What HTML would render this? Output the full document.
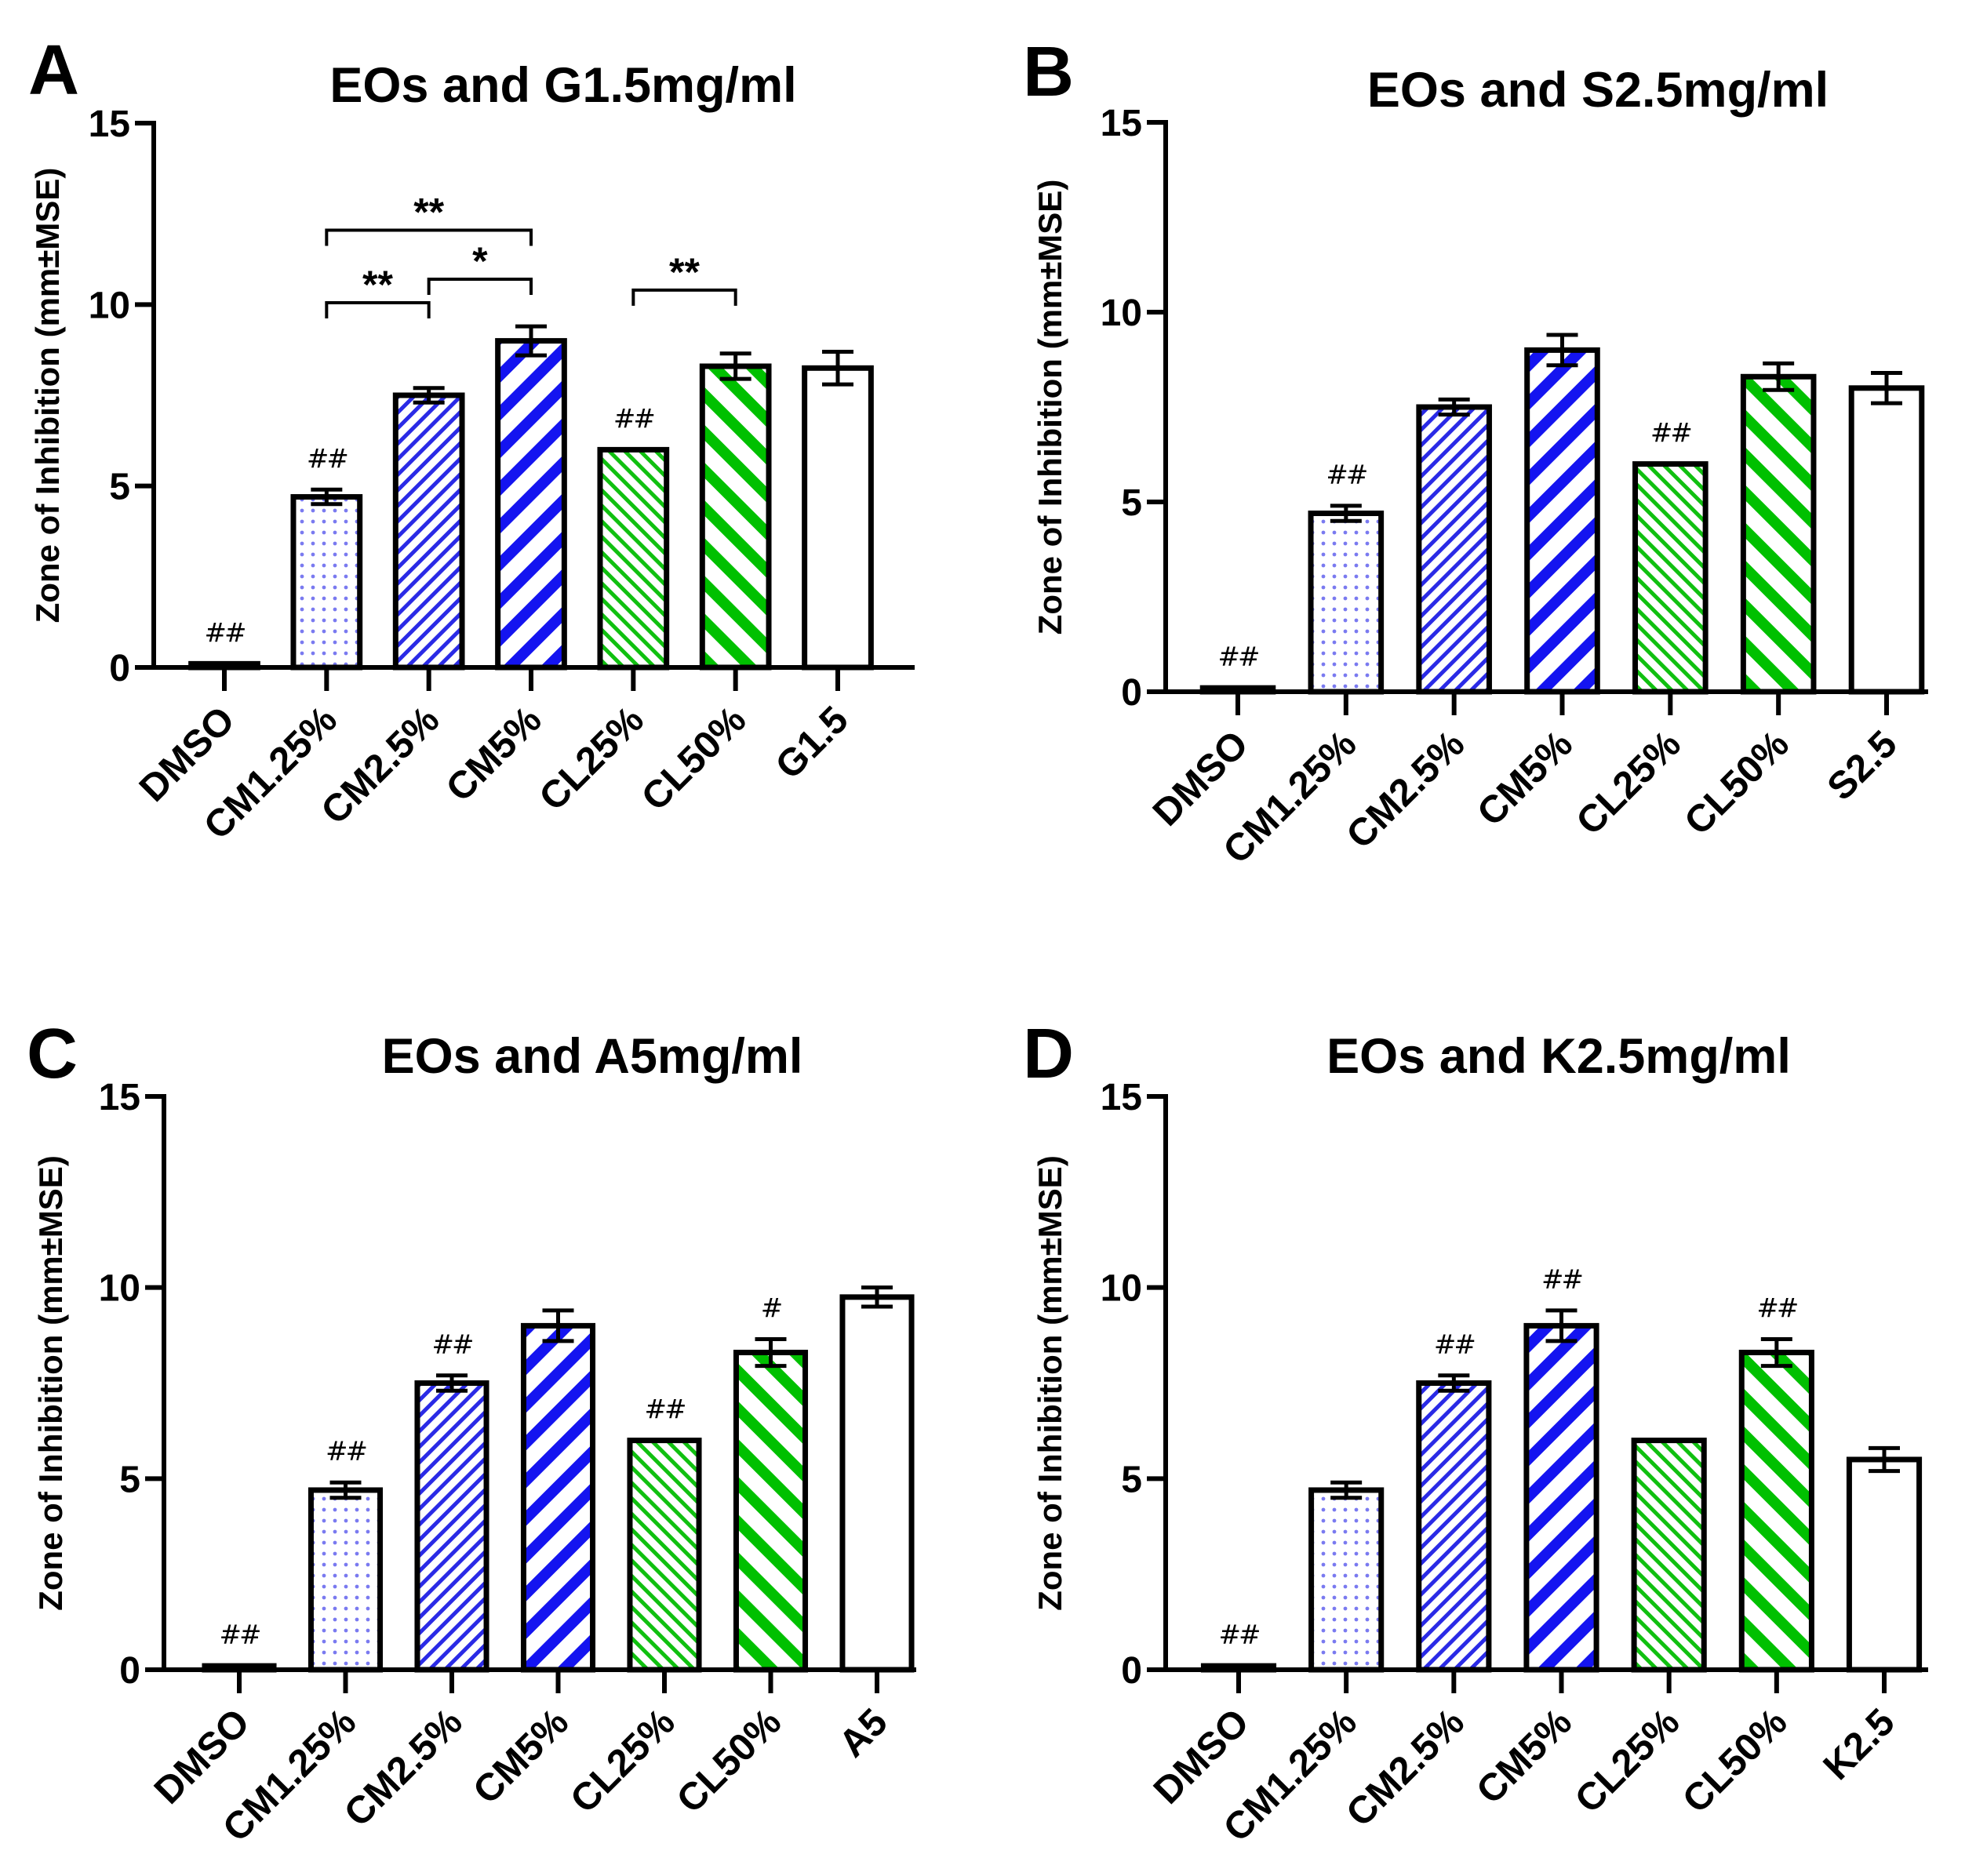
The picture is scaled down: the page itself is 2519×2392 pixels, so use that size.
<!DOCTYPE html>
<html><head><meta charset="utf-8"><style>
html,body{margin:0;padding:0;background:#fff;}
svg{display:block;font-family:"Liberation Sans",Arial,sans-serif;font-weight:bold;}
</style></head><body>
<svg id="fig" width="2519" height="2392" viewBox="0 0 2519 2392" xmlns="http://www.w3.org/2000/svg">
<defs>
<pattern id="p-dots" width="14" height="14" patternUnits="userSpaceOnUse"><rect width="14" height="14" fill="#fff"/><circle cx="7" cy="7" r="2.4" fill="#7a7af0"/></pattern>
<pattern id="p-bthin" width="14" height="14" patternUnits="userSpaceOnUse" patternTransform="rotate(45)"><rect width="14" height="14" fill="#fff"/><rect width="5" height="14" fill="#2a2ae6"/></pattern>
<pattern id="p-bthick" width="34" height="34" patternUnits="userSpaceOnUse" patternTransform="rotate(45)"><rect width="34" height="34" fill="#fff"/><rect width="14" height="34" fill="#1414f0"/></pattern>
<pattern id="p-gthin" width="14" height="14" patternUnits="userSpaceOnUse" patternTransform="rotate(-45)"><rect width="14" height="14" fill="#fff"/><rect width="5" height="14" fill="#10c010"/></pattern>
<pattern id="p-gthick" width="34" height="34" patternUnits="userSpaceOnUse" patternTransform="rotate(-45)"><rect width="34" height="34" fill="#fff"/><rect width="14" height="34" fill="#00c000"/></pattern>
</defs>
</svg>
<script>
const categoriesBase = ["DMSO","CM1.25%","CM2.5%","CM5%","CL25%","CL50%"];
const lastLabels = ["G1.5","S2.5","A5","K2.5"];
const titles = ["EOs and G1.5mg/ml","EOs and S2.5mg/ml","EOs and A5mg/ml","EOs and K2.5mg/ml"];
const letters = ["A","B","C","D"];
const baseValues = [0.1,4.7,7.5,9.0,6.0,8.3];
const baseErrors = [0,0.2,0.2,0.4,0,0.35];
const lastValues = [8.25,8.0,9.75,5.5];
const lastErrors = [0.45,0.4,0.25,0.3];
const hashMarks = [
  ["##","##","","","##","",""],
  ["##","##","","","##","",""],
  ["##","##","##","","##","#",""],
  ["##","","##","##","","##",""]
];
const yTicks = [0,5,10,15];
const sigFrom = [1,1,2,4];
const sigTo = [3,2,3,5];
const sigY = [12.05,10.05,10.7,10.4];
const sigLabel = ["**","**","*","**"];

const fills = ["#fff","url(#p-dots)","url(#p-bthin)","url(#p-bthick)","url(#p-gthin)","url(#p-gthick)","#fff"];
const panels = [
  {ax:196, top:157, zero:851, x0:286, x6:1068, xend:1166, tx:718, ty:130, lx:36, ly:120, ytx:60},
  {ax:1486, top:156, zero:882, x0:1578, x6:2405, xend:2458, tx:2037, ty:136, lx:1304, ly:122, ytx:1338},
  {ax:209, top:1398, zero:2129, x0:305, x6:1118, xend:1168, tx:755, ty:1368, lx:34, ly:1374, ytx:64},
  {ax:1486, top:1398, zero:2129, x0:1579, x6:2402, xend:2458, tx:1987, ty:1368, lx:1304, ly:1374, ytx:1338}
];
const svg = document.getElementById('fig');
const NS = "http://www.w3.org/2000/svg";
function mk(tag, attrs, parent, text){
  const e = document.createElementNS(NS, tag);
  for (const k in attrs) e.setAttribute(k, attrs[k]);
  if (text !== undefined) e.textContent = text;
  (parent||svg).appendChild(e); return e;
}
panels.forEach((p, pi) => {
  const g = mk('g', {});
  
  
  const cats = categoriesBase.concat([lastLabels[pi]]);
  const vals = baseValues.concat([lastValues[pi]]);
  const errs = baseErrors.concat([lastErrors[pi]]);
  const yS = v => p.zero - (p.zero - p.top) * v / 15;
  const step = (p.x6 - p.x0) / 6;
  const xS = i => p.x0 + step * i;
  const bw = step * 0.65;
  const L = mk('text', {x:p.lx, y:p.ly, 'font-size':90}, g, letters[pi]);
  
  
  const T = mk('text', {x:p.tx, y:p.ty, 'font-size':63, 'text-anchor':'middle'}, g, titles[pi]);
  
  
  const yc = (p.top + p.zero) / 2;
  const YT = mk('text', {x:p.ytx, y:yc, 'font-size':42, 'text-anchor':'middle', transform:`rotate(-90 ${p.ytx} ${yc})`, dy:15}, g, 'Zone of Inhibition (mm±MSE)');
  
  
  vals.forEach((v, i) => {
    const x = xS(i);
    const yt = yS(v);
    const r = mk('rect', {x:x-bw/2, y:yt, width:bw, height:p.zero-yt, fill:fills[i], stroke:'#000', 'stroke-width':7}, g);
    
    
    let topMark = yt;
    if (errs[i] > 0) {
      const e1 = yS(v + errs[i]), e2 = yS(v - errs[i]);
      const eb = mk('path', {d:`M${x} ${e1}V${e2}M${x-20} ${e1}H${x+20}M${x-20} ${e2}H${x+20}`, stroke:'#000', 'stroke-width':5, fill:'none'}, g);
      
      
      topMark = e1;
    }
    const h = hashMarks[pi][i];
    if (h) {
      const ht = mk('text', {x:x, y:topMark - 28, 'font-size':34, 'text-anchor':'middle', 'font-weight':'normal', 'font-family':'"DejaVu Sans",sans-serif', 'letter-spacing':'-3'}, g, h);
      
      
    }
    mk('line', {x1:x, x2:x, y1:p.zero, y2:p.zero+30, stroke:'#000', 'stroke-width':6}, g);
    const lx = x + 16, ly = p.zero + 70;
    const cl = mk('text', {x:lx, y:ly, 'font-size':49, 'text-anchor':'end', transform:`rotate(-45 ${lx} ${ly})`}, g, cats[i]);
    
    
  });
  const ya = mk('line', {x1:p.ax, x2:p.ax, y1:p.top-3, y2:p.zero+3, stroke:'#000', 'stroke-width':6}, g);
  
  
  const xa = mk('line', {x1:p.ax-3, x2:p.xend, y1:p.zero, y2:p.zero, stroke:'#000', 'stroke-width':6}, g);
  
  
  yTicks.forEach(t => {
    const y = yS(t);
    mk('line', {x1:p.ax-24, x2:p.ax, y1:y, y2:y, stroke:'#000', 'stroke-width':6}, g);
    const tl = mk('text', {x:p.ax-30, y:y+17, 'font-size':48, 'text-anchor':'end'}, g, String(t));
    
    
  });
  if (pi === 0) {
    sigFrom.forEach((f, k) => {
      const x1 = xS(f), x2 = xS(sigTo[k]), y = yS(sigY[k]);
      const br = mk('path', {d:`M${x1} ${y+20}V${y}H${x2}V${y+20}`, stroke:'#000', 'stroke-width':4, fill:'none'}, g);
      
      
      const st = mk('text', {x:(x1+x2)/2, y:y-6, 'font-size':50, 'text-anchor':'middle'}, g, sigLabel[k]);
      
      
    });
  }
});
</script>
</body></html>
